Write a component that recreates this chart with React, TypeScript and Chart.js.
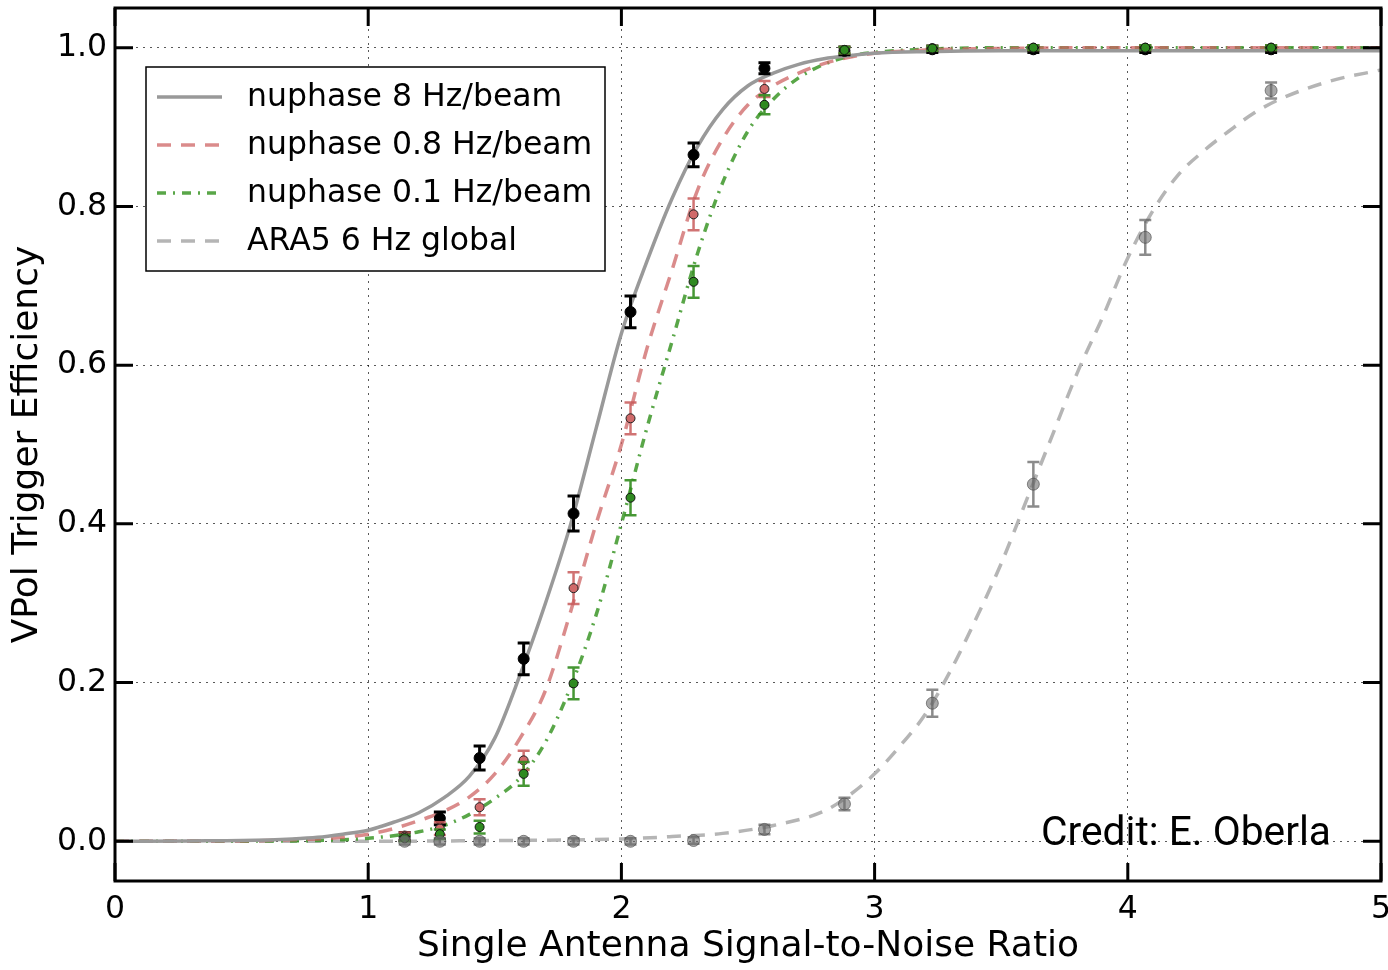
import React, { useEffect, useRef } from "react";
import { Chart, registerables } from "chart.js";

Chart.register(...registerables);

const FONT = '"DejaVu Sans", sans-serif';
const FONT_SIZE = 31.5;
const TITLE_SIZE = 36;

// Measured trigger efficiency vs single-antenna SNR
const snr = [1.144, 1.283, 1.44, 1.614, 1.811, 2.036, 2.285, 2.565, 2.881, 3.228, 3.627, 4.069, 4.566];

const eff8Hz = [0.006, 0.029, 0.105, 0.23, 0.413, 0.667, 0.865, 0.974, 0.996, 0.998, 0.998, 0.998, 0.998];
const err8Hz = [0.005, 0.008, 0.015, 0.02, 0.022, 0.02, 0.015, 0.007, 0.005, 0.004, 0.004, 0.004, 0.004];

const eff08Hz = [0.006, 0.016, 0.043, 0.102, 0.319, 0.533, 0.79, 0.948, 0.997, 0.999, 1.0, 1.0, 1.0];
const err08Hz = [0.005, 0.008, 0.01, 0.012, 0.02, 0.02, 0.02, 0.01, 0.004, 0.003, 0.003, 0.003, 0.003];

const eff01Hz = [0.004, 0.009, 0.018, 0.085, 0.199, 0.433, 0.705, 0.928, 0.997, 0.999, 1.0, 1.0, 1.0];
const err01Hz = [0.004, 0.006, 0.008, 0.015, 0.02, 0.022, 0.02, 0.012, 0.004, 0.003, 0.003, 0.003, 0.003];

const effAra = [0, 0, 0, 0, 0, 0, 0.001, 0.015, 0.047, 0.174, 0.45, 0.761, 0.946];
const errAra = [0.004, 0.004, 0.004, 0.004, 0.004, 0.004, 0.004, 0.006, 0.008, 0.017, 0.028, 0.022, 0.01];

// Fitted efficiency curves
const fitSnr = [0, 0.3, 0.5, 0.7, 0.8, 0.9, 1.0, 1.1, 1.2, 1.3, 1.4, 1.5, 1.6, 1.7, 1.8, 1.9, 2.0, 2.1, 2.2, 2.3, 2.4, 2.5, 2.6, 2.7, 2.8, 2.9, 3.0, 3.2, 3.5, 4.0, 4.5, 5.0];
const fit8Hz = [0, 0.0005, 0.001, 0.003, 0.005, 0.009, 0.014, 0.024, 0.036, 0.055, 0.082, 0.13, 0.21, 0.3, 0.4, 0.52, 0.64, 0.73, 0.81, 0.875, 0.922, 0.952, 0.968, 0.979, 0.986, 0.99, 0.993, 0.995, 0.996, 0.996, 0.996, 0.996];
const fit08Hz = [0, 0.0003, 0.0005, 0.002, 0.003, 0.005, 0.009, 0.016, 0.026, 0.038, 0.056, 0.085, 0.13, 0.19, 0.29, 0.4, 0.5, 0.62, 0.72, 0.82, 0.885, 0.928, 0.952, 0.968, 0.98, 0.988, 0.993, 0.997, 0.999, 1.0, 1.0, 1.0];
const fit01Hz = [0, 0.0001, 0.0002, 0.0005, 0.001, 0.002, 0.004, 0.007, 0.012, 0.02, 0.034, 0.054, 0.08, 0.125, 0.195, 0.285, 0.4, 0.52, 0.63, 0.74, 0.83, 0.895, 0.935, 0.962, 0.979, 0.989, 0.994, 0.998, 1.0, 1.0, 1.0, 1.0];

const fitAraSnr = [0, 1.0, 1.5, 2.0, 2.2, 2.4, 2.6, 2.8, 2.9, 3.0, 3.1, 3.2, 3.3, 3.4, 3.5, 3.6, 3.7, 3.8, 3.9, 4.0, 4.1, 4.2, 4.3, 4.4, 4.5, 4.6, 4.8, 5.0];
const fitAra = [0, 0, 0.001, 0.003, 0.006, 0.01, 0.02, 0.038, 0.058, 0.085, 0.12, 0.16, 0.215, 0.28, 0.35, 0.43, 0.51, 0.59, 0.66, 0.735, 0.795, 0.84, 0.87, 0.895, 0.918, 0.935, 0.958, 0.972];

const xTicks = [0, 1, 2, 3, 4, 5];
const yTicks = [0, 0.2, 0.4, 0.6, 0.8, 1.0];

const legendLabels = ["nuphase 8 Hz/beam", "nuphase 0.8 Hz/beam", "nuphase 0.1 Hz/beam", "ARA5 6 Hz global"];
const creditText = "Credit: E. Oberla";

const zip = (xs: number[], ys: number[]) => xs.map((x, i) => ({ x, y: ys[i] }));

// Vertical error bars with caps, drawn under each marker set
const errorBarPlugin = {
  id: "errorBars",
  beforeDatasetDraw(chart: any, args: any) {
    const ds = chart.data.datasets[args.index];
    if (!ds.errorY) return;
    const { ctx, chartArea } = chart;
    const yScale = chart.scales.y;
    ctx.save();
    ctx.beginPath();
    ctx.rect(chartArea.left, chartArea.top, chartArea.right - chartArea.left, chartArea.bottom - chartArea.top);
    ctx.clip();
    ctx.strokeStyle = ds.errorColor;
    ctx.lineWidth = ds.errorWidth;
    args.meta.data.forEach((el: any, j: number) => {
      const v = ds.data[j].y;
      const e = ds.errorY[j];
      const x = el.x;
      const y1 = yScale.getPixelForValue(v - e);
      const y2 = yScale.getPixelForValue(v + e);
      const cap = ds.capHalf;
      ctx.beginPath();
      ctx.moveTo(x, y1);
      ctx.lineTo(x, y2);
      ctx.moveTo(x - cap, y1);
      ctx.lineTo(x + cap, y1);
      ctx.moveTo(x - cap, y2);
      ctx.lineTo(x + cap, y2);
      ctx.stroke();
    });
    ctx.restore();
  },
};

// Frame, inward ticks, boxed legend and credit line
const decorPlugin = {
  id: "decor",
  afterDraw(chart: any) {
    const { ctx, chartArea } = chart;
    const { left, right, top, bottom } = chartArea;
    const xs = chart.scales.x;
    const ys = chart.scales.y;
    ctx.save();

    // credit text
    ctx.fillStyle = "#000";
    ctx.font = '41px Roboto, "Liberation Sans", sans-serif';
    ctx.textAlign = "left";
    ctx.textBaseline = "alphabetic";
    ctx.fillText(creditText, right - 340, ys.getPixelForValue(0) + 4, 290);

    // frame
    ctx.strokeStyle = "#000";
    ctx.lineWidth = 3;
    ctx.setLineDash([]);
    ctx.strokeRect(left, top, right - left, bottom - top);

    // ticks pointing inward on all four sides
    const tl = 18;
    ctx.beginPath();
    xTicks.forEach((v) => {
      const px = xs.getPixelForValue(v);
      ctx.moveTo(px, bottom);
      ctx.lineTo(px, bottom - tl);
      ctx.moveTo(px, top);
      ctx.lineTo(px, top + tl);
    });
    yTicks.forEach((v) => {
      const py = ys.getPixelForValue(v);
      ctx.moveTo(left, py);
      ctx.lineTo(left + tl, py);
      ctx.moveTo(right, py);
      ctx.lineTo(right - tl, py);
    });
    ctx.stroke();

    // legend
    const bx = left + 31;
    const by = top + 59;
    const bw = 459;
    const bh = 204;
    ctx.fillStyle = "#fff";
    ctx.fillRect(bx, by, bw, bh);
    ctx.strokeStyle = "#000";
    ctx.lineWidth = 1.5;
    ctx.strokeRect(bx, by, bw, bh);
    const curves = chart.data.datasets.filter((d: any) => d.isFit);
    curves.forEach((d: any, i: number) => {
      const cy = by + 31 + i * 48;
      ctx.save();
      ctx.strokeStyle = d.borderColor;
      ctx.lineWidth = d.borderWidth;
      ctx.setLineDash(d.borderDash || []);
      ctx.beginPath();
      ctx.moveTo(bx + 11, cy - 1);
      ctx.lineTo(bx + 76, cy - 1);
      ctx.stroke();
      ctx.restore();
      ctx.fillStyle = "#000";
      ctx.font = `${FONT_SIZE}px ${FONT}`;
      ctx.textBaseline = "middle";
      ctx.fillText(d.label, bx + 101, cy);
    });
    ctx.restore();
  },
};

export default function App() {
  const canvasRef = useRef<HTMLCanvasElement>(null);

  useEffect(() => {
    document.body.style.margin = "0";
    const canvas = canvasRef.current;
    if (!canvas) return;

    const fitLine = (label: string, xs: number[], ys: number[], color: string, dash: number[]) => ({
      label,
      isFit: true,
      data: zip(xs, ys),
      showLine: true,
      borderColor: color,
      borderWidth: 3.5,
      borderDash: dash,
      pointRadius: 0,
      cubicInterpolationMode: "monotone",
      order: 2,
    });

    const points = (ys: number[], errs: number[], fill: string, edge: string, radius: number, errColor: string, errWidth: number) => ({
      label: "",
      data: zip(snr, ys),
      showLine: false,
      pointRadius: radius,
      pointBackgroundColor: fill,
      pointBorderColor: edge,
      pointBorderWidth: 1,
      errorY: errs,
      errorColor: errColor,
      errorWidth: errWidth,
      capHalf: 6,
      order: 1,
    });

    const chart = new Chart(canvas, {
      type: "scatter",
      data: {
        datasets: [
          fitLine(legendLabels[0], fitSnr, fit8Hz, "#999999", []),
          fitLine(legendLabels[1], fitSnr, fit08Hz, "rgba(205,100,100,0.75)", [14, 10]),
          fitLine(legendLabels[2], fitSnr, fit01Hz, "rgba(60,150,40,0.85)", [9, 7, 2, 7]),
          fitLine(legendLabels[3], fitAraSnr, fitAra, "#b5b5b5", [14, 10]),
          points(effAra, errAra, "rgba(110,110,110,0.6)", "rgba(70,70,70,0.6)", 6, "rgba(90,90,90,0.7)", 2.5),
          points(eff01Hz, err01Hz, "#2f8a20", "#111", 4.5, "rgba(50,140,30,0.9)", 2.5),
          points(eff08Hz, err08Hz, "#d06a6a", "#222", 4.5, "rgba(200,90,90,0.85)", 2.5),
          points(eff8Hz, err8Hz, "#000", "#000", 5.5, "#000", 3),
        ] as any,
      },
      options: {
        responsive: false,
        animation: false,
        events: [],
        layout: { padding: { top: 8, right: 6, left: 0, bottom: 0 } },
        plugins: {
          legend: { display: false },
          tooltip: { enabled: false },
        },
        scales: {
          x: {
            type: "linear",
            min: 0,
            max: 5,
            afterBuildTicks: (s: any) => {
              s.ticks = xTicks.map((v) => ({ value: v }));
            },
            afterFit: (s: any) => {
              s.height = 89;
              s.paddingLeft = 0;
              s.paddingRight = 0;
            },
            ticks: {
              color: "#000",
              font: { family: FONT, size: FONT_SIZE },
              padding: 10,
              maxRotation: 0,
              autoSkip: false,
              callback: (v: any) => String(v),
            },
            grid: { color: "rgba(0,0,0,0.65)", lineWidth: 1, drawTicks: false },
            border: { display: false, dash: [2, 5] },
            title: {
              display: true,
              text: "Single Antenna Signal-to-Noise Ratio",
              color: "#000",
              font: { family: FONT, size: TITLE_SIZE },
              padding: { top: 0, bottom: 2 },
            },
          },
          y: {
            type: "linear",
            min: -0.05,
            max: 1.05,
            afterBuildTicks: (s: any) => {
              s.ticks = yTicks.map((v) => ({ value: v }));
            },
            afterFit: (s: any) => {
              s.width = 115;
              s.paddingTop = 0;
              s.paddingBottom = 0;
            },
            ticks: {
              color: "#000",
              font: { family: FONT, size: FONT_SIZE },
              padding: 8,
              autoSkip: false,
              callback: (v: any) => Number(v).toFixed(1),
            },
            grid: { color: "rgba(0,0,0,0.65)", lineWidth: 1, drawTicks: false },
            border: { display: false, dash: [2, 5] },
            title: {
              display: true,
              text: "VPol Trigger Efficiency",
              color: "#000",
              font: { family: FONT, size: TITLE_SIZE },
              padding: { top: 6, bottom: 0 },
            },
          },
        },
      } as any,
      plugins: [errorBarPlugin, decorPlugin],
    });

    return () => chart.destroy();
  }, []);

  return (
    <div style={{ width: 1388, height: 970 }}>
      <canvas ref={canvasRef} width={1388} height={970} style={{ width: 1388, height: 970, display: "block" }} />
    </div>
  );
}
